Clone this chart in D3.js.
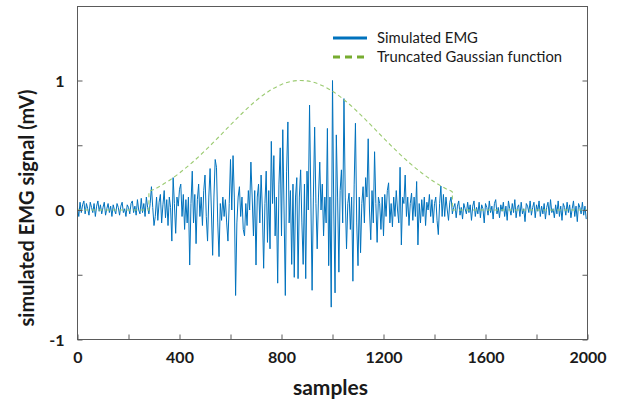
<!DOCTYPE html>
<html>
<head>
<meta charset="utf-8">
<script src="https://cdn.jsdelivr.net/npm/d3@7"></script>
<style>
  html, body { margin: 0; padding: 0; background: #fff; }
  svg { display: block; font-family: Lato, "Open Sans", sans-serif; }
</style>
</head>
<body>
<svg id="chart" width="619" height="404"></svg>
<script>
// ---------- data ----------
const sampleStep = 5;   // EMG values below are read every 5 samples
const emgBaselineStart = [
  0.02,-0.05,0.06,-0.02,0.04,0.07,-0.03,0.05,0.01,-0.04,
  0.06,0.02,-0.02,0.05,-0.05,0.03,0.07,-0.01,0.04,-0.03,
  0.02,0.06,-0.04,0.01,0.05,-0.02,0.03,-0.05,0.04,0.0,
  -0.03,0.05,0.02,-0.04,0.03,0.06,-0.02,0.01,-0.05,0.04,
  0.02,-0.03,0.05,0.07,-0.02,0.03,-0.04,0.08,0.0,-0.03,
  0.09,-0.02,0.05,-0.05,0.1,0.02,-0.03
];
const emgBurst = [
  0.05,0.18,0.02,-0.12,-0.05,0.1,-0.08,0.06,0.12,-0.1,
  0.04,0.15,-0.06,0.08,-0.12,0.1,0.02,-0.24,0.25,0.05,
  -0.18,0.1,0.03,0.16,0.2,-0.05,0.12,-0.15,0.08,-0.1,
  0.1,-0.425,0.05,0.30,-0.1,0.12,-0.26,0.08,0.2,-0.05,
  0.1,-0.12,0.15,0.27,-0.05,-0.24,0.1,0.32,0.0,-0.35,
  0.1,0.39,0.33,-0.1,-0.36,0.05,-0.08,0.1,-0.05,0.08,
  -0.1,-0.24,0.05,0.39,0.0,0.42,0.1,-0.66,-0.1,0.1,
  0.18,-0.05,0.1,-0.15,-0.2,0.05,-0.12,0.15,0.0,0.37,
  0.1,-0.2,0.15,-0.425,0.1,0.2,-0.1,0.27,0.0,-0.45,
  0.05,0.3,-0.25,0.15,-0.3,0.53,0.05,0.42,-0.2,0.1,
  -0.565,0.2,0.48,-0.2,0.62,0.0,-0.66,0.3,0.68,-0.1,
  0.15,-0.42,0.2,-0.52,0.1,0.25,-0.53,0.1,0.31,-0.1,
  -0.42,0.2,-0.53,0.3,0.0,0.81,0.1,-0.62,0.1,0.64,
  0.05,-0.3,0.1,0.37,0.0,0.2,-0.2,0.1,-0.1,0.63,
  -0.43,0.1,-0.75,1.0,0.0,-0.64,0.58,0.1,-0.48,0.15,
  0.31,-0.1,0.86,0.1,-0.3,0.05,0.13,-0.15,0.1,-0.55,
  0.2,0.67,-0.1,-0.43,0.1,-0.33,0.05,0.18,-0.1,0.25,
  0.1,0.55,0.0,-0.23,0.15,-0.1,0.45,0.05,-0.25,0.1,
  0.05,-0.15,0.1,-0.2,0.12,-0.05,0.15,0.21,-0.1,0.05,
  -0.13,0.1,-0.05,0.15,0.0,-0.1,0.33,-0.27,0.1,0.05,
  0.27,-0.05,0.1,-0.12,0.05,0.13,-0.08,0.1,-0.05,0.22,
  -0.27,0.05,-0.1,0.08,-0.05,0.1,-0.12,0.06,0.0,0.12,
  -0.05,0.08,-0.1,0.05,0.1,-0.08,-0.19,0.05,0.185,-0.05,
  0.12,-0.05,0.1,0.0,-0.08,0.06,0.1,-0.03,0.02
];
const emgBaselineEnd = [
  0.05,-0.06,0.03,0.07,-0.04,0.02,-0.07,0.05,0.01,-0.03,
  0.06,-0.02,0.04,-0.08,0.03,0.07,-0.05,0.02,-0.03,0.06,
  -0.06,0.04,0.01,-0.1,0.05,0.02,-0.04,0.07,-0.02,0.03,
  -0.07,0.05,0.08,-0.03,0.02,-0.06,0.04,-0.01,0.06,-0.05,
  0.03,-0.08,0.07,0.01,-0.04,0.05,-0.02,0.08,-0.06,0.02,
  0.04,-0.05,0.06,-0.03,0.01,-0.09,0.05,0.03,-0.02,0.07,
  -0.04,0.02,0.06,-0.06,0.04,-0.01,0.07,-0.05,0.03,-0.03,
  0.05,-0.07,0.02,0.06,-0.04,0.08,-0.02,0.01,-0.06,0.04,
  -0.03,0.07,-0.05,0.03,-0.08,0.05,0.02,-0.04,0.06,-0.02,
  0.04,-0.06,0.01,0.07,-0.05,0.03,-0.09,0.05,0.02,-0.03,
  0.06,-0.04,0.03,-0.07
];
const gaussSamples = [0, 280, 280, 300, 350, 400, 450, 500, 550, 600, 650, 700, 750, 800, 850, 875,
  900, 950, 1000, 1050, 1100, 1150, 1200, 1250, 1300, 1350, 1400, 1450, 1470, 1470, 2000];
const gaussValues = [0, 0, 0.14, 0.159, 0.216, 0.286, 0.367, 0.458, 0.556, 0.657, 0.755, 0.844, 0.917, 0.969, 0.997, 1.0,
  0.997, 0.969, 0.917, 0.844, 0.755, 0.657, 0.556, 0.458, 0.367, 0.286, 0.216, 0.159, 0.14, 0, 0];
const xTicks = [0, 200, 400, 600, 800, 1000, 1200, 1400, 1600, 1800, 2000];
const xTickLabels = ["0", "", "400", "", "800", "", "1200", "", "1600", "", "2000"];
const yTicks = [-1, -0.5, 0, 0.5, 1];
const yTickLabels = ["-1", "", "0", "", "1"];
const seriesNames = ["Simulated EMG", "Truncated Gaussian function"];
const xTitle = "samples";
const yTitle = "simulated EMG signal (mV)";

// ---------- layout ----------
const svg = d3.select("#chart");
const L = 77.5, R = 587.5, T = 6.5, B = 339.5;
const x = d3.scaleLinear().domain([0, 2000]).range([L, R]);
const y = d3.scaleLinear().domain([-1, 1]).range([B, 80.5]);

const emg = [].concat(emgBaselineStart, emgBurst, emgBaselineEnd)
  .map((v, i) => ({ s: i * sampleStep, v }));
const gauss = gaussSamples.map((s, i) => ({ s, v: gaussValues[i] }));

const clipId = "plotclip";
svg.append("defs").append("clipPath").attr("id", clipId)
  .append("rect").attr("x", L).attr("y", T).attr("width", R - L).attr("height", B - T);

const plot = svg.append("g").attr("clip-path", `url(#${clipId})`);
const line = d3.line().x(d => x(d.s)).y(d => y(d.v));

plot.append("path").datum(emg)
  .attr("d", line).attr("fill", "none")
  .attr("stroke", "#0072BD").attr("stroke-width", 1).attr("stroke-linejoin", "round");

plot.append("path").datum(gauss)
  .attr("d", d3.line().x(d => x(d.s)).y(d => y(d.v)).curve(d3.curveMonotoneX))
  .attr("fill", "none")
  .attr("stroke", "#9ccb72").attr("stroke-width", 1.1).attr("stroke-dasharray", "4,3");

// ---------- axes ----------
const axisColor = "#5a5a5a";
const xAxis = svg.append("g").attr("transform", `translate(0,${B})`)
  .call(d3.axisBottom(x).tickValues(xTicks).tickSizeInner(-5).tickSizeOuter(0).tickPadding(12.5)
    .tickFormat((d, i) => xTickLabels[i]));
const yAxis = svg.append("g").attr("transform", `translate(${L},0)`)
  .call(d3.axisLeft(y).tickValues(yTicks).tickSizeInner(-5).tickSizeOuter(0).tickPadding(13)
    .tickFormat((d, i) => yTickLabels[i]));
const yAxisR = svg.append("g").attr("transform", `translate(${R},0)`)
  .call(d3.axisRight(y).tickValues(yTicks).tickSizeInner(-5).tickSizeOuter(0).tickFormat(""));

[xAxis, yAxis, yAxisR].forEach(g => {
  g.select(".domain").remove();
  g.selectAll(".tick line").attr("stroke", axisColor);
  g.selectAll(".tick text").attr("fill", "#1a1a1a")
    .style("font-size", "16px").style("font-weight", "700")
    .style("font-family", "Lato, 'Open Sans', sans-serif");
});
yAxis.selectAll(".tick text").attr("dy", "0.36em");

svg.append("rect").attr("x", L).attr("y", T).attr("width", R - L).attr("height", B - T)
  .attr("fill", "none").attr("stroke", axisColor).attr("stroke-width", 1);

// ---------- titles ----------
svg.append("text").attr("x", (L + R) / 2 - 2).attr("y", 395)
  .attr("text-anchor", "middle").attr("fill", "#1a1a1a")
  .style("font-size", "21px").style("font-weight", "700").text(xTitle);

svg.append("text").attr("transform", `translate(34,208) rotate(-90)`)
  .attr("text-anchor", "middle").attr("fill", "#1a1a1a")
  .style("font-size", "20px").style("font-weight", "700").text(yTitle);

// ---------- legend ----------
const legend = svg.append("g");
const legendItems = [
  { name: seriesNames[0], color: "#0072BD", dash: null, yy: 38 },
  { name: seriesNames[1], color: "#77AC30", dash: "7,5", yy: 57 }
];
legendItems.forEach(it => {
  legend.append("line").attr("x1", 333).attr("x2", 367).attr("y1", it.yy).attr("y2", it.yy)
    .attr("stroke", it.color).attr("stroke-width", 3)
    .attr("stroke-dasharray", it.dash);
  legend.append("text").attr("x", 377).attr("y", it.yy + 5).attr("fill", "#1a1a1a")
    .style("font-size", "14.8px").text(it.name);
});
</script>
</body>
</html>
